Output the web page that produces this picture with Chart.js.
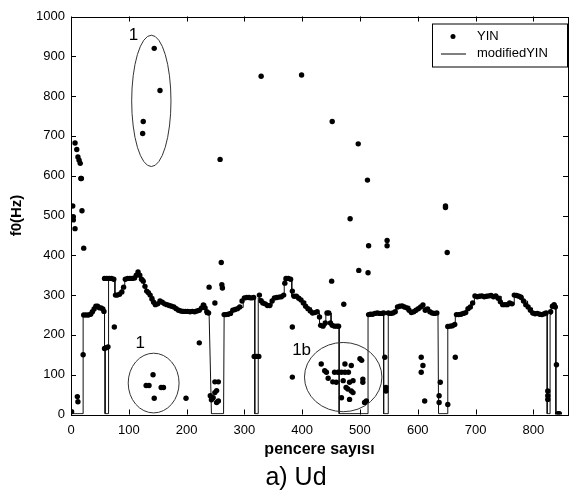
<!DOCTYPE html>
<html>
<head>
<meta charset="utf-8">
<script src="https://cdn.jsdelivr.net/npm/chart.js@4"></script>
<style>
html, body { margin: 0; padding: 0; background: #fff; }
</style>
</head>
<body>
<canvas id="grafica" width="575" height="500"></canvas>
<script>
// YIN: puntos sobre el contorno (pencere, f0)
let contornoYIN = [
    [22,250],[26,250],[30,250],[34,252],[37,258],[40,265],[43,272],[46,272],[49,268],[52,268],[55,265],[57,259],
    [58,166],[61,168],[64,170],
    [58,342],[62,342],[66,342],[70,342],[74,340],
    [77,300],[80,300],[84,302],[88,308],[91,320],[94,340],[98,342],[102,342],[106,342],[110,343],[113,350],[116,358],
    [119,350],[122,340],[125,335],[128,322],[131,310],[134,306],[137,300],[140,290],[143,282],[146,276],[150,278],
    [154,285],[158,282],[162,278],[166,276],[170,274],[174,272],[178,270],[182,266],[186,262],[190,260],[194,259],
    [198,259],[202,259],[206,258],[210,259],[214,258],[218,260],[222,262],[226,268],[229,275],[232,268],[235,258],[238,255],
    [265,251],[268,251],[272,252],[276,254],[280,262],[284,264],[288,266],[292,270],[296,285],[300,293],[304,294],
    [308,294],[312,293],[316,294],[317,146],[321,146],[325,146],
    [326,300],[329,286],[332,280],[336,278],[340,274],[344,274],[348,285],[352,293],[356,294],[360,295],[364,296],
    [368,300],[370,330],[372,342],[376,342],[380,340],[383,310],[386,297],[390,297],[394,292],[398,288],[402,280],
    [406,272],[410,266],[414,260],[418,255],[422,256],[426,258],[430,245],[432,224],[436,222],[440,230],[443,255],
    [446,255],[449,230],[452,224],[456,222],[460,222],[463,222],
    [515,251],[518,252],[522,252],[526,254],[530,255],[534,254],[538,254],[541,255],
    [549,255],[553,254],[557,255],[561,258],[565,270],[569,272],[573,273],[577,270],[581,268],[585,262],[589,256],
    [593,258],[597,262],[601,266],[605,270],[609,275],[613,262],[617,265],[621,258],[625,255],[629,254],[633,255],
    [652,221],[656,222],[660,223],[664,226],[667,251],[671,251],[675,252],[679,254],[683,256],[687,266],[691,270],
    [695,280],[699,298],[703,296],[707,297],[711,298],[715,296],[719,297],[723,298],[727,299],[731,296],[735,298],
    [739,292],[743,283],[747,276],[751,276],[755,276],[759,280],[763,278],[767,300],[771,299],[775,297],[779,294],
    [783,285],[787,276],[791,270],[795,262],[799,255],[803,253],[807,254],[811,252],[815,251],[819,253],[822,255],
    [830,258],[833,272],[836,276],[838,270]
];

// YIN: puntos sueltos (errores)
let sueltosYIN = [
    [3,524],[4,497],[4,489],[7,467],[7,682],[10,666],[12,647],[14,639],[16,631],[17,593],[18,593],[19,512],[22,418],
    [1,7],[11,45],[12,32],[21,150],[75,220],
    [144,920],[154,814],[125,736],[124,706],
    [258,641],[329,850],[399,853],[452,736],[497,680],[513,589],[648,524],[648,520],[483,492],[515,424],[547,437],
    [547,424],[651,407],[498,362],[514,356],[451,335],[472,277],[383,220],[383,94],[260,382],[261,326],[262,318],
    [239,320],[249,280],[222,180],[199,41],
    [142,100],[130,73],[135,73],[156,68],[160,68],[144,41],
    [241,47],[243,37],[246,42],[249,55],[252,60],[252,30],[255,34],[249,82],[255,82],
    [433,127],[439,110],[442,106],[445,91],[453,82],[456,106],[462,106],[468,106],[474,106],[480,106],[459,81],
    [471,85],[474,127],[485,123],[500,140],[503,136],[476,68],[479,64],[485,59],[488,55],[482,81],[488,85],
    [505,89],[505,81],[468,42],[482,38],[508,30],[511,34],
    [543,144],[545,68],[545,59],
    [606,144],[609,123],[606,106],[612,34],[637,47],[637,30],[639,81],[652,25],[665,144],
    [825,59],[825,47],[825,38],[840,125],[842,2],[845,2]
];

// modifiedYIN: escalones (pencere, f0)
let modifiedYIN = [
    [3,2],[21,2],[21,250],[34,250],[34,258],[38,258],[38,265],[42,265],[42,272],[48,272],[48,268],[56,268],
    [56,259],[58,259],[58,166],[59,166],[59,2],[65,2],[65,342],[76,342],[76,302],[88,302],[88,318],[93,318],
    [93,342],[112,342],[114,352],[116,359],[118,352],[121,342],[126,342],[126,325],[130,325],[130,308],[136,308],
    [136,296],[143,296],[143,276],[154,276],[154,284],[158,284],[158,276],[168,276],[168,272],[180,272],[180,265],
    [190,265],[190,260],[223,260],[223,268],[229,268],[229,278],[233,278],[233,251],[239,251],[243,2],[264,2],
    [265,251],[278,251],[278,263],[290,263],[290,269],[298,269],[298,293],[318,293],[318,2],[324,2],[324,293],
    [327,293],[327,280],[340,280],[340,274],[348,274],[348,293],[366,293],[366,297],[369,297],[369,340],[382,340],
    [382,297],[396,297],[396,285],[406,285],[406,268],[416,268],[416,255],[430,255],[430,222],[441,222],[441,255],
    [450,255],[450,222],[464,222],[464,2],[514,2],[514,251],[525,251],[525,255],[541,255],[541,2],[549,2],
    [549,255],[563,255],[563,272],[586,272],[586,255],[597,255],[597,268],[620,268],[620,255],[635,255],[636,2],
    [652,2],[652,221],[665,221],[665,251],[684,251],[684,268],[693,268],[693,280],[698,280],[698,297],[744,297],
    [744,276],[767,276],[767,300],[781,300],[781,285],[790,285],[790,268],[798,268],[798,251],[824,251],[824,2],
    [829,2],[829,251],[831,251],[831,276],[839,276],[839,2],[846,2]
];

// elipses y etiquetas de anotación: centro y semiejes en unidades de datos
let elipses = [
    {cx: 139, cy: 788, rx: 34, ry: 165},
    {cx: 143, cy: 79, rx: 44, ry: 75},
    {cx: 471, cy: 94, rx: 67, ry: 87}
];
let etiquetas = [
    {x: 108, y: 952, texto: "1"},
    {x: 120, y: 179, texto: "1"},
    {x: 399, y: 162, texto: "1b"}
];

let fuente = "'Liberation Sans', Arial, sans-serif";

function aPuntos(lista) {
    return lista.map(p => ({x: p[0], y: p[1]}));
}

let marcoPlugin = {
    id: "marco",
    afterDraw(chart) {
        let ctx = chart.ctx;
        let a = chart.chartArea;
        let sx = chart.scales.x;
        let sy = chart.scales.y;
        ctx.save();

        // anotaciones
        ctx.strokeStyle = "#333";
        ctx.lineWidth = 1;
        elipses.forEach(e => {
            let px = sx.getPixelForValue(e.cx);
            let py = sy.getPixelForValue(e.cy);
            let rx = Math.abs(sx.getPixelForValue(e.cx + e.rx) - px);
            let ry = Math.abs(sy.getPixelForValue(e.cy + e.ry) - py);
            ctx.beginPath();
            ctx.ellipse(px, py, rx, ry, 0, 0, Math.PI * 2);
            ctx.stroke();
        });
        ctx.fillStyle = "#000";
        ctx.font = "17px " + fuente;
        ctx.textAlign = "center";
        ctx.textBaseline = "middle";
        etiquetas.forEach(t => {
            ctx.fillText(t.texto, sx.getPixelForValue(t.x), sy.getPixelForValue(t.y));
        });

        // caja y marcas hacia dentro
        ctx.strokeStyle = "#000";
        ctx.lineWidth = 1;
        ctx.strokeRect(Math.round(a.left) + 0.5, Math.round(a.top) + 0.5,
            Math.round(a.right - a.left), Math.round(a.bottom - a.top));
        ctx.beginPath();
        sx.ticks.forEach(t => {
            let p = Math.round(sx.getPixelForValue(t.value)) + 0.5;
            ctx.moveTo(p, a.bottom); ctx.lineTo(p, a.bottom - 5);
            ctx.moveTo(p, a.top); ctx.lineTo(p, a.top + 5);
        });
        sy.ticks.forEach(t => {
            let p = Math.round(sy.getPixelForValue(t.value)) + 0.5;
            ctx.moveTo(a.left, p); ctx.lineTo(a.left + 5, p);
            ctx.moveTo(a.right, p); ctx.lineTo(a.right - 5, p);
        });
        ctx.stroke();

        // leyenda
        let ds = chart.data.datasets;
        let bx = a.right - 136, by = a.top + 7;
        ctx.fillStyle = "#fff";
        ctx.fillRect(bx, by, 136, 44);
        ctx.strokeRect(bx + 0.5, by + 0.5, 135, 43);
        ctx.fillStyle = "#000";
        ctx.beginPath();
        ctx.arc(bx + 21, by + 13, 2.5, 0, Math.PI * 2);
        ctx.fill();
        ctx.beginPath();
        ctx.moveTo(bx + 9, by + 30.5);
        ctx.lineTo(bx + 34, by + 30.5);
        ctx.stroke();
        ctx.font = "13px " + fuente;
        ctx.textAlign = "left";
        ctx.fillText(ds[0].label, bx + 45, by + 13);
        ctx.fillText(ds[1].label, bx + 45, by + 30);

        // subtítulo
        ctx.font = "25px " + fuente;
        ctx.textAlign = "center";
        ctx.fillText("a) Ud", 296, 478);
        ctx.restore();
    }
};

let ctx = document.getElementById("grafica").getContext("2d");
new Chart(ctx, {
    type: "scatter",
    data: {
        datasets: [{
            label: "YIN",
            data: aPuntos(contornoYIN.concat(sueltosYIN)),
            backgroundColor: "#000",
            borderColor: "#000",
            pointRadius: 2.7,
            pointHoverRadius: 2.7,
            borderWidth: 0,
            showLine: false
        }, {
            label: "modifiedYIN",
            data: aPuntos(modifiedYIN),
            borderColor: "#111",
            borderWidth: 1,
            pointRadius: 0,
            showLine: true,
            fill: false
        }]
    },
    options: {
        responsive: false,
        animation: false,
        layout: { padding: { top: 16.5, right: 7, bottom: 35.5, left: 0 } },
        plugins: {
            legend: { display: false },
            tooltip: { enabled: false }
        },
        scales: {
            x: {
                type: "linear",
                min: 0,
                max: 860,
                grid: { display: false, drawTicks: false },
                border: { display: false },
                ticks: { stepSize: 100, includeBounds: false, padding: 8, color: "#000",
                    font: { family: fuente, size: 13 }, callback: v => String(v) },
                title: { display: true, text: "pencere sayısı", color: "#000",
                    font: { family: fuente, size: 16, weight: "bold" }, padding: { top: 0, bottom: 5 } },
                afterFit: s => { s.height = 50; }
            },
            y: {
                min: 0,
                max: 1000,
                grid: { display: false, drawTicks: false },
                border: { display: false },
                ticks: { stepSize: 100, padding: 6, color: "#000",
                    font: { family: fuente, size: 13 }, callback: v => String(v) },
                title: { display: true, text: "f0(Hz)", color: "#000",
                    font: { family: fuente, size: 15, weight: "bold" }, padding: { top: 8, bottom: 0 } },
                afterFit: s => { s.width = 71; }
            }
        }
    },
    plugins: [marcoPlugin]
});
</script>
</body>
</html>
